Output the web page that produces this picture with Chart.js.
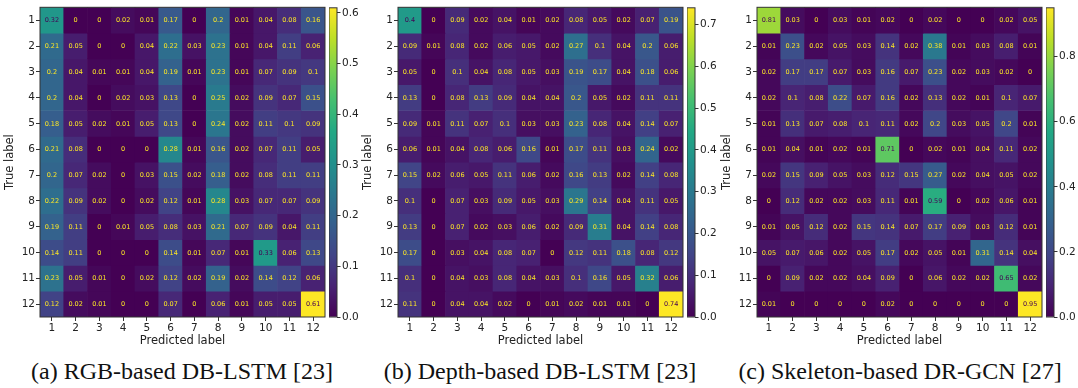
<!DOCTYPE html>
<html>
<head>
<meta charset="utf-8">
<script src="https://cdn.jsdelivr.net/npm/chart.js@4/dist/chart.umd.min.js"></script>
<style>
  body { margin: 0; background: #fff; width: 1078px; height: 388px; position: relative; overflow: hidden; }
  canvas { position: absolute; top: 0; }
  .cap { position: absolute; top: 359px; width: 360px; text-align: center; font-family: "Liberation Serif", serif; font-size: 24px; line-height: 24px; color: #111; white-space: nowrap; }
</style>
</head>
<body>
<canvas id="mA" width="326" height="351" style="left:0px"></canvas>
<canvas id="cA" width="44" height="330" style="left:329px"></canvas>
<canvas id="mB" width="326" height="351" style="left:358px"></canvas>
<canvas id="cB" width="44" height="330" style="left:687px"></canvas>
<canvas id="mC" width="326" height="351" style="left:717px"></canvas>
<canvas id="cC" width="44" height="330" style="left:1046px"></canvas>
<div class="cap" style="left:2px">(a) RGB-based DB-LSTM [23]</div>
<div class="cap" style="left:360px">(b) Depth-based DB-LSTM [23]</div>
<div class="cap" style="left:720px">(c) Skeleton-based DR-GCN [27]</div>
<script>
const classLabels = ["1", "2", "3", "4", "5", "6", "7", "8", "9", "10", "11", "12"];

const rgbMatrix = [
  [0.32, 0, 0, 0.02, 0.01, 0.17, 0, 0.2, 0.01, 0.04, 0.08, 0.16],
  [0.21, 0.05, 0, 0, 0.04, 0.22, 0.03, 0.23, 0.01, 0.04, 0.11, 0.06],
  [0.2, 0.04, 0.01, 0.01, 0.04, 0.19, 0.01, 0.23, 0.01, 0.07, 0.09, 0.1],
  [0.2, 0.04, 0, 0.02, 0.03, 0.13, 0, 0.25, 0.02, 0.09, 0.07, 0.15],
  [0.18, 0.05, 0.02, 0.01, 0.05, 0.13, 0, 0.24, 0.02, 0.11, 0.1, 0.09],
  [0.21, 0.08, 0, 0, 0, 0.28, 0.01, 0.16, 0.02, 0.07, 0.11, 0.05],
  [0.2, 0.07, 0.02, 0, 0.03, 0.15, 0.02, 0.18, 0.02, 0.08, 0.11, 0.11],
  [0.22, 0.09, 0.02, 0, 0.02, 0.12, 0.01, 0.28, 0.03, 0.07, 0.07, 0.09],
  [0.19, 0.11, 0, 0.01, 0.05, 0.08, 0.03, 0.21, 0.07, 0.09, 0.04, 0.11],
  [0.14, 0.11, 0, 0, 0, 0.14, 0.01, 0.07, 0.01, 0.33, 0.06, 0.13],
  [0.23, 0.05, 0.01, 0, 0.02, 0.12, 0.02, 0.19, 0.02, 0.14, 0.12, 0.06],
  [0.12, 0.02, 0.01, 0, 0, 0.07, 0, 0.06, 0.01, 0.05, 0.05, 0.61]
];

const depthMatrix = [
  [0.4, 0, 0.09, 0.02, 0.04, 0.01, 0.02, 0.08, 0.05, 0.02, 0.07, 0.19],
  [0.09, 0.01, 0.08, 0.02, 0.06, 0.05, 0.02, 0.27, 0.1, 0.04, 0.2, 0.06],
  [0.05, 0, 0.1, 0.04, 0.08, 0.05, 0.03, 0.19, 0.17, 0.04, 0.18, 0.06],
  [0.13, 0, 0.08, 0.13, 0.09, 0.04, 0.04, 0.2, 0.05, 0.02, 0.11, 0.11],
  [0.09, 0.01, 0.11, 0.07, 0.1, 0.03, 0.03, 0.23, 0.08, 0.04, 0.14, 0.07],
  [0.06, 0.01, 0.04, 0.08, 0.06, 0.16, 0.01, 0.17, 0.11, 0.03, 0.24, 0.02],
  [0.15, 0.02, 0.06, 0.05, 0.11, 0.06, 0.02, 0.16, 0.13, 0.02, 0.14, 0.08],
  [0.1, 0, 0.07, 0.03, 0.09, 0.05, 0.03, 0.29, 0.14, 0.04, 0.11, 0.05],
  [0.13, 0, 0.07, 0.02, 0.03, 0.06, 0.02, 0.09, 0.31, 0.04, 0.14, 0.08],
  [0.17, 0, 0.03, 0.04, 0.08, 0.07, 0, 0.12, 0.11, 0.18, 0.08, 0.12],
  [0.1, 0, 0.04, 0.03, 0.08, 0.04, 0.03, 0.1, 0.16, 0.05, 0.32, 0.06],
  [0.11, 0, 0.04, 0.04, 0.02, 0, 0.01, 0.02, 0.01, 0.01, 0, 0.74]
];

const skeletonMatrix = [
  [0.81, 0.03, 0, 0.03, 0.01, 0.02, 0, 0.02, 0, 0, 0.02, 0.05],
  [0.01, 0.23, 0.02, 0.05, 0.03, 0.14, 0.02, 0.38, 0.01, 0.03, 0.08, 0.01],
  [0.02, 0.17, 0.17, 0.07, 0.03, 0.16, 0.07, 0.23, 0.02, 0.03, 0.02, 0],
  [0.02, 0.1, 0.08, 0.22, 0.07, 0.16, 0.02, 0.13, 0.02, 0.01, 0.1, 0.07],
  [0.01, 0.13, 0.07, 0.08, 0.1, 0.11, 0.02, 0.2, 0.03, 0.05, 0.2, 0.01],
  [0.01, 0.04, 0.01, 0.02, 0.01, 0.71, 0, 0.02, 0.01, 0.04, 0.11, 0.02],
  [0.02, 0.15, 0.09, 0.05, 0.03, 0.12, 0.15, 0.27, 0.02, 0.04, 0.05, 0.02],
  [0, 0.12, 0.02, 0.02, 0.03, 0.11, 0.01, 0.59, 0, 0.02, 0.06, 0.01],
  [0.01, 0.05, 0.12, 0.02, 0.15, 0.14, 0.07, 0.17, 0.09, 0.03, 0.12, 0.01],
  [0.05, 0.07, 0.06, 0.02, 0.05, 0.17, 0.02, 0.05, 0.01, 0.31, 0.14, 0.04],
  [0, 0.09, 0.02, 0.02, 0.04, 0.09, 0, 0.06, 0.02, 0.02, 0.65, 0.02],
  [0.01, 0, 0, 0, 0, 0.02, 0, 0, 0, 0, 0, 0.95]
];

const rgbTicks = [0, 0.1, 0.2, 0.3, 0.4, 0.5, 0.6];
const depthTicks = [0, 0.1, 0.2, 0.3, 0.4, 0.5, 0.6, 0.7];
const skeletonTicks = [0, 0.2, 0.4, 0.6, 0.8];

// viridis, 11 stops
const viridisStops = [[68,1,84],[72,35,116],[65,68,135],[53,95,141],[42,120,142],[33,145,140],[34,168,132],[68,191,112],[122,209,81],[189,223,38],[253,231,37]];
function viridis(t) {
  t = Math.min(1, Math.max(0, t));
  const p = t * 10;
  const i = Math.min(9, Math.floor(p));
  const f = p - i;
  const a = viridisStops[i], b = viridisStops[i + 1];
  const c = a.map((v, k) => Math.round(v + (b[k] - v) * f));
  return `rgb(${c[0]},${c[1]},${c[2]})`;
}

Chart.defaults.font.family = "'DejaVu Sans', sans-serif";
Chart.defaults.font.size = 10.5;
Chart.defaults.color = "#222";

const frame = {
  id: "frame",
  afterDraw(chart) {
    const { ctx, chartArea: a } = chart;
    ctx.save();
    ctx.strokeStyle = "#333";
    ctx.lineWidth = 1;
    ctx.strokeRect(a.left, a.top, a.right - a.left, a.bottom - a.top);
    ctx.restore();
  }
};

const cellText = {
  id: "cellText",
  afterDatasetsDraw(chart) {
    const ctx = chart.ctx;
    const vmax = chart.options.plugins.cellText.vmax;
    ctx.save();
    ctx.font = "6.5px 'DejaVu Sans'";
    ctx.textAlign = "center";
    ctx.textBaseline = "middle";
    chart.data.datasets.forEach((ds, i) => {
      chart.getDatasetMeta(i).data.forEach((bar, j) => {
        const v = ds.data[j].v;
        const { x, y, base } = bar.getProps(["x", "y", "base"], true);
        ctx.fillStyle = v > vmax / 2 ? viridis(0) : viridis(1);
        ctx.fillText(String(v), x, (y + base) / 2 + 0.5);
      });
    });
    ctx.restore();
  }
};

function matrixChart(id, matrix) {
  const vmax = Math.max(...matrix.flat());
  const datasets = matrix.map((row, r) => ({
    data: row.map((v, c) => ({ x: classLabels[c], y: [r, r + 1], v })),
    backgroundColor: (ctx) => viridis(ctx.raw.v / vmax),
    borderWidth: 0,
    grouped: false,
    barPercentage: 1,
    categoryPercentage: 1
  }));
  new Chart(document.getElementById(id), {
    type: "bar",
    data: { labels: classLabels, datasets },
    plugins: [cellText, frame],
    options: {
      responsive: false,
      animation: false,
      devicePixelRatio: 1,
      layout: { padding: { top: 7, right: 1, left: 0, bottom: 0 } },
      plugins: { legend: { display: false }, tooltip: { enabled: false }, cellText: { vmax } },
      scales: {
        x: {
          type: "category",
          offset: true,
          grid: { offset: false, drawOnChartArea: false, tickLength: 4, color: "#333" },
          border: { display: false },
          ticks: { padding: 1, maxRotation: 0 },
          title: { display: true, text: "Predicted label", font: { size: 11.5 }, padding: { top: 0, bottom: 3 } },
          afterFit: (s) => { s.height = 34; }
        },
        y: {
          type: "linear",
          min: 0,
          max: 12,
          reverse: true,
          grid: { drawOnChartArea: false, tickLength: 4, color: "#333" },
          border: { display: false },
          afterBuildTicks: (s) => { s.ticks = classLabels.map((_, i) => ({ value: i + 0.5 })); },
          ticks: { padding: 1, callback: (v) => classLabels[Math.floor(v)] },
          title: { display: true, text: "True label", font: { size: 11.5 }, padding: { top: 3, bottom: 0 } },
          afterFit: (s) => { s.width = 40; }
        }
      }
    }
  });
  return vmax;
}

function colorBar(id, vmax, tickValues) {
  new Chart(document.getElementById(id), {
    type: "bar",
    data: {
      labels: [""],
      datasets: [{
        data: [[0, vmax]],
        backgroundColor: (ctx) => {
          const area = ctx.chart.chartArea;
          if (!area) return viridis(0.5);
          const g = ctx.chart.ctx.createLinearGradient(0, area.bottom, 0, area.top);
          viridisStops.forEach((_, k) => g.addColorStop(k / 10, viridis(k / 10)));
          return g;
        },
        borderWidth: 0,
        barPercentage: 1,
        categoryPercentage: 1
      }]
    },
    plugins: [frame],
    options: {
      responsive: false,
      animation: false,
      devicePixelRatio: 1,
      layout: { padding: { top: 7, bottom: 13, left: 0, right: 0 } },
      plugins: { legend: { display: false }, tooltip: { enabled: false } },
      scales: {
        x: { display: false },
        y: {
          position: "right",
          min: 0,
          max: vmax,
          grid: { drawOnChartArea: false, tickLength: 3.5, color: "#333" },
          border: { display: false },
          afterBuildTicks: (s) => { s.ticks = tickValues.map((v) => ({ value: v })); },
          ticks: { padding: 1.5, callback: (v) => v.toFixed(1) },
          afterFit: (s) => { s.width = 36; }
        }
      }
    }
  });
}

colorBar("cA", matrixChart("mA", rgbMatrix), rgbTicks);
colorBar("cB", matrixChart("mB", depthMatrix), depthTicks);
colorBar("cC", matrixChart("mC", skeletonMatrix), skeletonTicks);
</script>
</body>
</html>
